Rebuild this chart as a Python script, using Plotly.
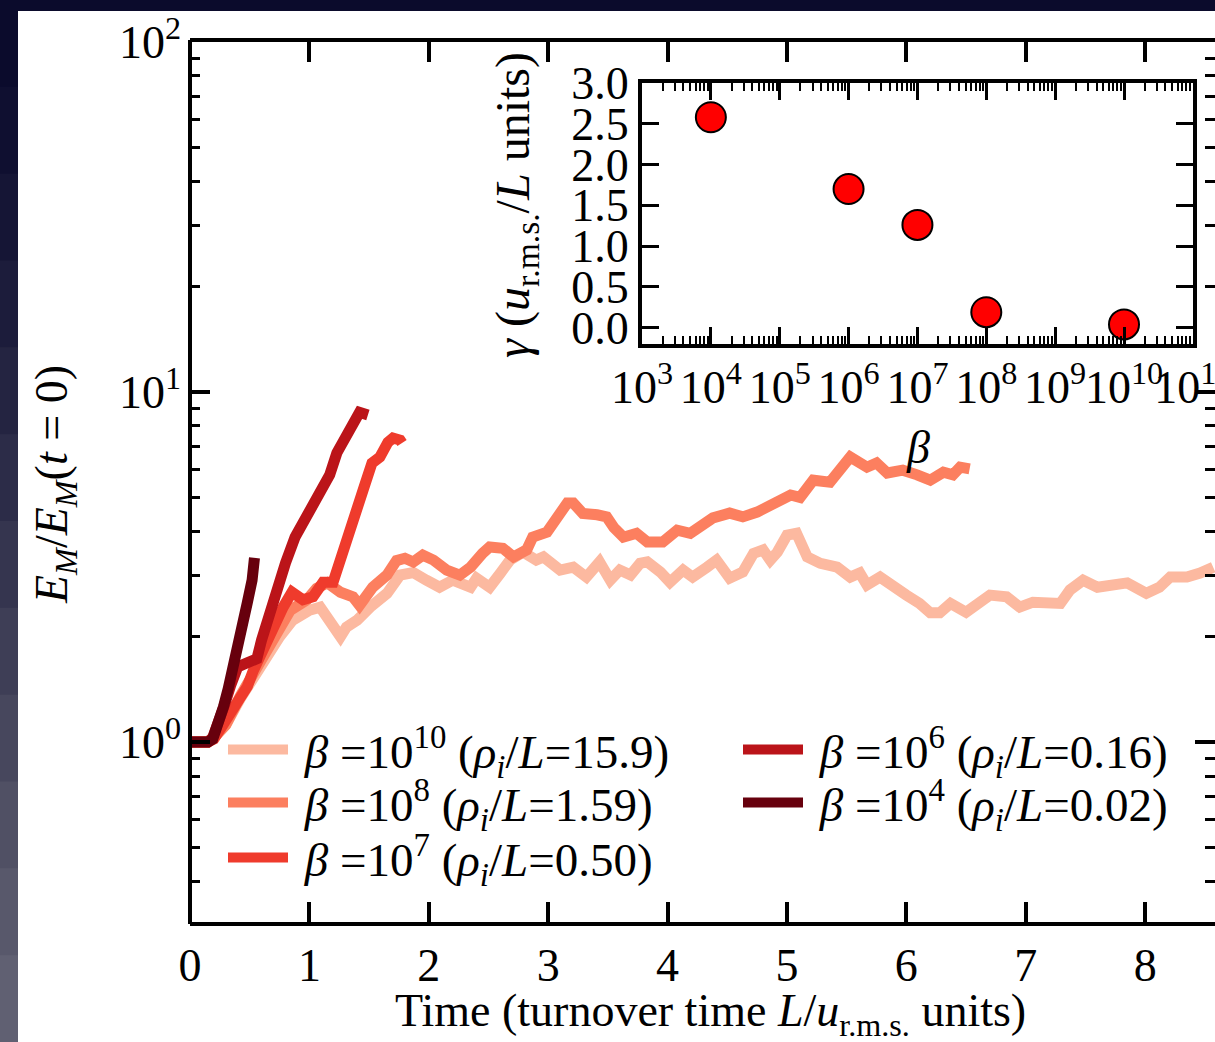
import plotly.graph_objects as go

# ---------------- data ----------------
t4 = [0, 0.05, 0.10, 0.15, 0.19, 0.23, 0.28, 0.32, 0.36, 0.40, 0.435, 0.48, 0.52, 0.54]
e4 = [1.0, 1.0, 1.0, 1.0, 1.02, 1.1, 1.26, 1.42, 1.61, 1.9, 2.13, 2.5, 2.9, 3.36]

t6 = [0, 0.10, 0.15, 0.19, 0.24, 0.29, 0.34, 0.40, 0.47, 0.56, 0.60, 0.66, 0.73, 0.80, 0.88,
      0.95, 1.005, 1.06, 1.11, 1.17, 1.23, 1.30, 1.365, 1.42, 1.49]
e6 = [1.0, 1.0, 1.0, 1.03, 1.13, 1.28, 1.45, 1.64, 1.68, 1.73, 1.96, 2.3, 2.77, 3.25, 3.85,
      4.25, 4.6, 5.0, 5.25, 5.8, 6.7, 7.5, 8.16, 8.75, 8.6]

t7 = [0, 0.10, 0.15, 0.20, 0.30, 0.40, 0.48, 0.53, 0.58, 0.67, 0.72, 0.78, 0.854, 0.946, 1.03,
      1.114, 1.198, 1.256, 1.31, 1.365, 1.45, 1.524, 1.59, 1.658, 1.70, 1.76, 1.776]
e7 = [1.0, 1.0, 1.0, 1.02, 1.15, 1.3, 1.44, 1.6, 1.75, 2.0, 2.25, 2.43, 2.68, 2.55, 2.6,
      2.86, 2.86, 3.25, 3.75, 4.31, 5.25, 6.27, 6.52, 7.19, 7.39, 7.29, 7.15]

t8 = [0, 0.10, 0.15, 0.20, 0.30, 0.42, 0.56, 0.73, 0.84, 0.98, 1.06, 1.15, 1.26, 1.365, 1.42,
      1.53, 1.65, 1.73, 1.80, 1.87, 1.95, 2.04, 2.15, 2.26, 2.35, 2.45, 2.51, 2.62, 2.71, 2.82,
      2.87, 2.99, 3.07, 3.16, 3.21, 3.29, 3.41, 3.49, 3.55, 3.63, 3.74, 3.83, 3.96, 4.08, 4.19,
      4.30, 4.38, 4.52, 4.63, 4.75, 4.83, 4.94, 5.03, 5.11, 5.22, 5.36, 5.53, 5.67, 5.75, 5.84,
      5.97, 6.09, 6.20, 6.31, 6.39, 6.45, 6.53]
e8 = [1.0, 1.0, 1.0, 1.03, 1.12, 1.35, 1.64, 2.05, 2.38, 2.55, 2.75, 2.85, 2.68, 2.6, 2.46,
      2.77, 3.0, 3.3, 3.35, 3.27, 3.42, 3.31, 3.1, 3.0, 3.16, 3.46, 3.61, 3.58, 3.38, 3.54,
      3.85, 3.98, 4.31, 4.82, 4.82, 4.5, 4.46, 4.4, 4.1, 3.85, 3.95, 3.73, 3.73, 4.03, 3.95,
      4.23, 4.37, 4.51, 4.4, 4.54, 4.69, 4.85, 5.08, 5.0, 5.6, 5.53, 6.52, 6.1, 6.27, 5.87,
      5.98, 5.8, 5.6, 5.9, 5.8, 6.1, 6.03]

t10 = [0, 0.10, 0.15, 0.20, 0.30, 0.42, 0.56, 0.75, 0.86, 1.0, 1.09, 1.17, 1.26, 1.31, 1.40,
       1.51, 1.65, 1.76, 1.87, 1.98, 2.09, 2.2, 2.35, 2.40, 2.51, 2.6, 2.68, 2.79, 2.9, 2.96,
       3.1, 3.21, 3.32, 3.43, 3.52, 3.6, 3.69, 3.77, 3.83, 3.94, 4.02, 4.13, 4.21, 4.33, 4.41,
       4.52, 4.63, 4.72, 4.8, 4.86, 4.92, 5.0, 5.08, 5.17, 5.28, 5.42, 5.53, 5.61, 5.67, 5.78,
       5.89, 6.0, 6.11, 6.2, 6.28, 6.37, 6.5, 6.62, 6.7, 6.84, 6.95, 7.06, 7.18, 7.29, 7.37,
       7.48, 7.6, 7.73, 7.85, 8.01, 8.12, 8.21, 8.35, 8.46, 8.57]
e10 = [1.0, 1.0, 1.0, 1.03, 1.12, 1.33, 1.6, 2.0, 2.23, 2.38, 2.43, 2.23, 2.0, 2.13, 2.23,
       2.43, 2.66, 3.0, 3.05, 2.9, 2.77, 2.9, 2.77, 2.94, 2.77, 3.04, 3.31, 3.49, 3.31, 3.38,
       3.1, 3.16, 2.96, 3.27, 2.9, 3.1, 3.0, 3.24, 3.27, 3.06, 2.86, 3.1, 2.96, 3.16, 3.31,
       2.94, 3.06, 3.46, 3.54, 3.31, 3.49, 3.9, 3.95, 3.38, 3.24, 3.16, 2.96, 3.04, 2.81, 2.96,
       2.76, 2.63, 2.49, 2.34, 2.34, 2.49, 2.35, 2.49, 2.63, 2.6, 2.43, 2.51, 2.51, 2.49, 2.72,
       2.9, 2.77, 2.81, 2.85, 2.66, 2.77, 2.96, 2.96, 3.04, 3.16]

# inset: growth rate vs beta
beta_vals = [1e4, 1e6, 1e7, 1e8, 1e10]
gamma_vals = [2.58, 1.70, 1.26, 0.19, 0.04]

main_yticks = [1, 10, 100]
main_yticktext = ["10<sup>0</sup>", "10<sup>1</sup>", "10<sup>2</sup>"]
inset_xticks = [10 ** k for k in range(3, 12)]
inset_xticktext = ["10<sup>%d</sup>" % k for k in range(3, 12)]

NB = "\u00a0"
series = [
    # t, E, colour, label
    (t10, e10, "#fcb9a0", NB + "<i>β</i> =10<sup>10</sup> (<i>ρ<sub>i</sub></i>/<i>L</i>=15.9)"),
    (t8, e8, "#fc7f5f", NB + "<i>β</i> =10<sup>8</sup> (<i>ρ<sub>i</sub></i>/<i>L</i>=1.59)"),
    (t7, e7, "#ef3b2c", NB + "<i>β</i> =10<sup>7</sup> (<i>ρ<sub>i</sub></i>/<i>L</i>=0.50)"),
    (t6, e6, "#bb1419", NB + "<i>β</i> =10<sup>6</sup> (<i>ρ<sub>i</sub></i>/<i>L</i>=0.16)"),
    (t4, e4, "#67000d", NB + "<i>β</i> =10<sup>4</sup> (<i>ρ<sub>i</sub></i>/<i>L</i>=0.02)"),
]
# legend slot (pixel position of the legend line start / row centre) for each series
legend_slots = [(230, 750), (230, 803), (230, 858), (745, 750), (745, 803)]

W, H = 1215, 1042
L, R, T, B = 190, 0, 42, 120
PW, PH = W - L - R, H - T - B


def px(x):
    return (x - L) / PW


def py(y):
    return (H - B - y) / PH


FONT = "Liberation Serif"
FS = 46
LFS = 47

fig = go.Figure()
legend_layout = {}
for i, ((t, e, c, name), (lx, ly)) in enumerate(zip(series, legend_slots)):
    key = "legend" if i == 0 else "legend%d" % (i + 1)
    fig.add_trace(go.Scatter(x=t, y=e, mode="lines", name=name, legend=key,
                             line=dict(color=c, width=11)))
    legend_layout[key] = dict(x=px(lx - 7), y=py(ly), xanchor="left", yanchor="middle",
                              bgcolor="rgba(0,0,0,0)", itemwidth=60,
                              font=dict(family=FONT, size=LFS, color="black"))

fig.add_trace(go.Scatter(x=beta_vals, y=gamma_vals, mode="markers", showlegend=False,
                         xaxis="x2", yaxis="y2",
                         marker=dict(size=30, color="#ff0000",
                                     line=dict(color="black", width=2))))

# background: dark slide frame with gradient strip on the left
shapes = []
strip_cols = ["#0b0b2c", "#0f0f30", "#151535", "#1c1c3b", "#242441", "#2c2c48",
              "#35354f", "#3e3e56", "#47475d", "#505064", "#58586b", "#606072"]
n = len(strip_cols)
for i, c in enumerate(strip_cols):
    y0 = i * H / n
    y1 = (i + 1) * H / n
    shapes.append(dict(type="rect", xref="paper", yref="paper", layer="below",
                       x0=px(-2), x1=px(18), y0=py(y1 + 1), y1=py(y0),
                       fillcolor=c, line=dict(width=0)))
shapes.append(dict(type="rect", xref="paper", yref="paper", layer="below",
                   x0=px(18), x1=px(W + 5), y0=py(H + 5), y1=py(11),
                   fillcolor="white", line=dict(width=0)))
# left spine of the main axes (the right one lies outside the cropped frame)
shapes.append(dict(type="line", xref="paper", yref="paper", layer="above",
                   x0=0, x1=0, y0=-0.0023, y1=1.0023,
                   line=dict(color="black", width=4)))

axis_common = dict(linewidth=4, linecolor="black", mirror="ticks",
                   ticks="inside", tickcolor="black", showgrid=False, zeroline=False,
                   tickangle=0, automargin=False,
                   tickfont=dict(family=FONT, size=FS, color="black"))

fig.update_layout(
    width=W, height=H,
    margin=dict(l=L, r=R, t=T, b=B, autoexpand=False),
    paper_bgcolor="#0b0b2c",
    plot_bgcolor="white",
    shapes=shapes,
    xaxis=dict(range=[0, 8.585], dtick=1, tick0=0, ticklen=20, tickwidth=4,
               showline=True, **axis_common),
    yaxis=dict(type="log", range=[-0.514, 2], tickvals=main_yticks,
               ticktext=main_yticktext, ticklen=20, tickwidth=4, showline=False,
               ticklabelstandoff=8,
               minor=dict(ticks="inside", ticklen=10, tickwidth=3, dtick="D1",
                          tickcolor="black", showgrid=False),
               **axis_common),
    xaxis2=dict(type="log", range=[3, 11.002], domain=[px(642), px(1193)], anchor="y2",
                tickvals=inset_xticks, ticktext=inset_xticktext, ticklen=17, tickwidth=3,
                ticklabeloverflow="allow", showline=True,
                minor=dict(ticks="inside", ticklen=8, tickwidth=2, dtick="D1",
                           tickcolor="black", showgrid=False),
                **axis_common),
    yaxis2=dict(range=[-0.2, 3.0], domain=[py(344), py(83)], anchor="x2",
                dtick=0.5, tick0=0, tickformat=".1f", ticklen=17, tickwidth=3,
                showline=True, **axis_common),
    annotations=[
        dict(text="Time (turnover time <i>L</i>/<i>u</i><sub>r.m.s.</sub> units)",
             xref="paper", yref="paper", x=px(710), y=py(1014), showarrow=False,
             xanchor="center", yanchor="middle",
             font=dict(family=FONT, size=FS, color="black")),
        dict(text="<i>E<sub>M</sub></i>/<i>E<sub>M</sub></i>(<i>t</i> = 0)",
             xref="paper", yref="paper", x=px(55), y=py(485), showarrow=False,
             textangle=-90, xanchor="center", yanchor="middle",
             font=dict(family=FONT, size=FS, color="black")),
        dict(text="<i>γ</i> (<i>u</i><sub>r.m.s.</sub>/<i>L</i> units)",
             xref="paper", yref="paper", x=px(516), y=py(205), showarrow=False,
             textangle=-90, xanchor="center", yanchor="middle",
             font=dict(family=FONT, size=48, color="black")),
        dict(text="<i>β</i>", xref="paper", yref="paper", x=px(918), y=py(447),
             showarrow=False, xanchor="center", yanchor="middle",
             font=dict(family=FONT, size=FS, color="black")),
    ],
    **legend_layout,
)

fig.write_html("out.html",
               config={"displayModeBar": False},
               post_script="document.body.style.margin='0';"
                           "document.body.style.overflow='hidden';")
